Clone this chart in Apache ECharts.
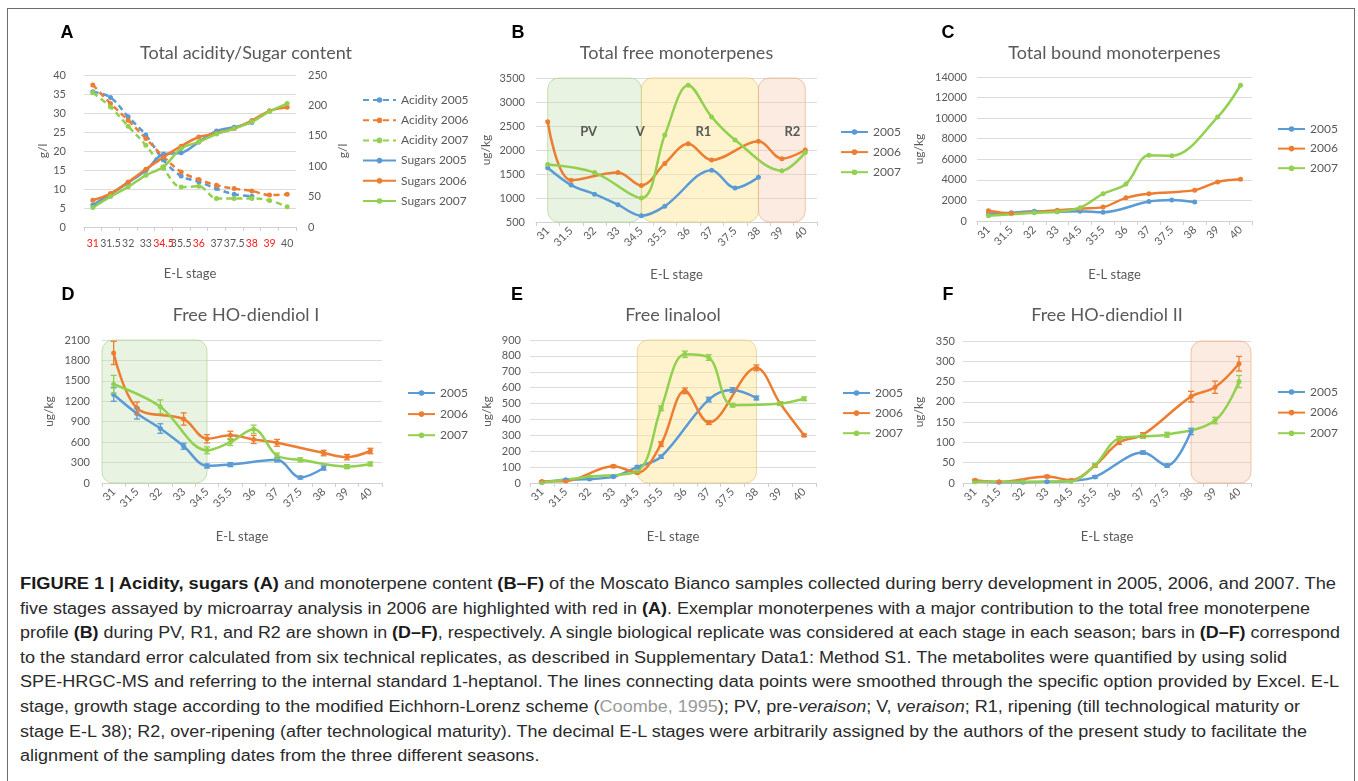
<!DOCTYPE html>
<html>
<head>
<meta charset="utf-8">
<title>Figure 1</title>
<script src="https://cdn.jsdelivr.net/npm/echarts@6/dist/echarts.min.js"></script>
<style>
html, body { margin: 0; padding: 0; background: #fff; width: 1358px; height: 781px; overflow: hidden; }
#frame { position: absolute; left: 7px; top: 8px; width: 1348px; height: 800px; border: 1px solid #6d6d6d; box-sizing: border-box; }
#chart { position: absolute; left: 0; top: 0; width: 1358px; height: 560px; }
#caption { position: absolute; left: 20px; top: 572px; font-family: 'Liberation Sans', Arial, sans-serif; font-size: 16px; line-height: 24.6px; color: #2a2a2a; white-space: nowrap; }
#caption .ln { display: inline-block; transform-origin: 0 50%; }
#caption b { color: #1a1a1a; }
#caption .ref { color: #9a9a9a; }
</style>
</head>
<body>
<div id="frame"></div>
<div id="chart"></div>
<div id="caption">
  <span class="ln"><b>FIGURE 1 | Acidity, sugars (A)</b> and monoterpene content <b>(B–F)</b> of the Moscato Bianco samples collected during berry development in 2005, 2006, and 2007. The</span><br>
  <span class="ln">five stages assayed by microarray analysis in 2006 are highlighted with red in <b>(A)</b>. Exemplar monoterpenes with a major contribution to the total free monoterpene</span><br>
  <span class="ln">profile <b>(B)</b> during PV, R1, and R2 are shown in <b>(D–F)</b>, respectively. A single biological replicate was considered at each stage in each season; bars in <b>(D–F)</b> correspond</span><br>
  <span class="ln">to the standard error calculated from six technical replicates, as described in Supplementary Data1: Method S1. The metabolites were quantified by using solid</span><br>
  <span class="ln">SPE-HRGC-MS and referring to the internal standard 1-heptanol. The lines connecting data points were smoothed through the specific option provided by Excel. E-L</span><br>
  <span class="ln">stage, growth stage according to the modified Eichhorn-Lorenz scheme (<span class="ref">Coombe, 1995</span>); PV, pre-<i>veraison</i>; V, <i>veraison</i>; R1, ripening (till technological maturity or</span><br>
  <span class="ln">stage E-L 38); R2, over-ripening (after technological maturity). The decimal E-L stages were arbitrarily assigned by the authors of the present study to facilitate the</span><br>
  <span class="ln">alignment of the sampling dates from the three different seasons.</span>
</div>
<script>
// E-L stages (x categories), the red ones are the microarray stages of 2006
const stages = ['31', '31.5', '32', '33', '34.5', '35.5', '36', '37', '37.5', '38', '39', '40'];
const markedStages = ['31', '34.5', '36', '38', '39'];

// A - acidity (g/l, left axis) and sugars (g/l, right axis)
const acidity2005 = [35.6, 34.1, 29.0, 24.2, 17.6, 13.4, 11.9, 10.1, 8.6, 8.1, null, null];
const acidity2006 = [37.4, 32.5, 28.1, 23.3, 18.5, 14.5, 12.5, 11.0, 10.1, 9.5, 8.4, 8.6];
const acidity2007 = [35.3, 31.6, 26.5, 21.5, 15.4, 10.5, 10.7, 7.5, 7.5, 7.5, 7.0, 5.3];
const sugars2005 = [36, 54, 73, 93, 120, 122, 140, 158, 164, 172, null, null];
const sugars2006 = [44, 55, 74, 95, 115, 133, 148, 154, 162, 175, 191, 197];
const sugars2007 = [32, 50, 66, 85, 99, 129, 140, 153, 162, 173, 190, 203];

// B - total free monoterpenes (ug/kg)
const free2005 = [1630, 1270, 1080, 860, 630, 830, null, 1580, 1210, 1430, null, null];
const free2006 = [2590, 1370, null, 1530, 1260, 1720, 2130, 1790, null, 2180, 1820, 2000];
const free2007 = [1700, null, 1530, null, 1000, 2310, 3350, 2690, 2210, null, 1570, 1950];

// C - total bound monoterpenes (ug/kg)
const bound2005 = [700, 800, 950, 900, 950, 850, null, 1900, 2050, 1850, null, null];
const bound2006 = [1000, 750, null, 1050, 1200, 1350, 2250, 2650, null, 3000, 3800, 4050];
const bound2007 = [500, null, 800, 900, 1300, 2650, 3600, 6400, 6350, null, 10100, 13200];

// D - free HO-diendiol I (ug/kg) and standard errors
const hoI2005 = [1300, 1020, 800, 540, 250, 270, null, 340, 80, 220, null, null];
const hoI2006 = [1910, 1100, null, 940, 650, 700, 640, 590, null, 440, 380, 470];
const hoI2007 = [1450, null, 1120, null, 480, 600, 790, 400, 340, null, 240, 280];
const hoI2005Err = [100, 80, 70, 45, 30, 30, null, 30, 20, 30, null, null];
const hoI2006Err = [170, 90, null, 90, 60, 60, 60, 50, null, 40, 40, 40];
const hoI2007Err = [130, null, 100, null, 50, 50, 60, 40, 30, null, 30, 30];

// E - free linalool (ug/kg) and standard errors
const lin2005 = [5, 20, 25, 40, 100, 165, null, 525, 585, 535, null, null];
const lin2006 = [10, 12, null, 105, 65, 245, 580, 380, null, 725, 500, 300];
const lin2007 = [3, null, 40, null, 75, 470, 810, 790, 490, null, 500, 530];
const lin2005Err = [3, 4, 4, 5, 8, 10, null, 15, 15, 12, null, null];
const lin2006Err = [3, 3, null, 8, 6, 15, 18, 12, null, 18, 12, 8];
const lin2007Err = [2, null, 4, null, 6, 15, 20, 18, 12, null, 12, 12];

// F - free HO-diendiol II (ug/kg) and standard errors
const hoII2005 = [4, 2, 2, 3, 5, 15, null, 75, 43, 127, null, null];
const hoII2006 = [7, 3, null, 16, 7, 43, 100, 119, null, 213, 236, 294];
const hoII2007 = [3, null, 3, null, 5, 44, 110, 115, 119, null, 154, 250];
const hoII2005Err = [1, 1, 1, 1, 1, 3, null, 4, 4, 8, null, null];
const hoII2006Err = [2, 1, null, 3, 2, 4, 5, 5, null, 13, 15, 18];
const hoII2007Err = [1, null, 1, null, 1, 4, 5, 5, 6, null, 8, 15];

// highlighted phases, in category index units (PV, R1, R2)
const phasesB = [{ from: 0, to: 4, kind: 'pv' }, { from: 4, to: 9, kind: 'r1' }, { from: 9, to: 11, kind: 'r2' }];
const phaseLabelsB = [{ text: 'PV', at: 1.75 }, { text: 'V', at: 3.95 }, { text: 'R1', at: 6.65 }, { text: 'R2', at: 10.45 }];
const phaseLabelValueB = 2380;
const phasesD = [{ from: -0.5, to: 4, kind: 'pv' }];
const phasesE = [{ from: 4, to: 9, kind: 'r1' }];
const phasesF = [{ from: 9, to: 11.5, kind: 'r2' }];

const FONT = 'Lato, "Open Sans", sans-serif';
const GREY = '#595959';
const C2005 = '#5B9BD5', C2006 = '#ED7D31', C2007 = '#92D050';
const phaseStyle = {
  pv: { fill: 'rgba(197,224,178,0.38)', stroke: 'rgba(169,209,142,0.65)' },
  r1: { fill: 'rgba(255,229,153,0.48)', stroke: 'rgba(222,196,120,0.65)' },
  r2: { fill: 'rgba(248,203,173,0.38)', stroke: 'rgba(236,170,130,0.65)' }
};

const chart = echarts.init(document.getElementById('chart'));

const grids = [
  { left: 84, top: 75, width: 212, height: 152 },
  { left: 536, top: 78, width: 281, height: 144 },
  { left: 977, top: 77, width: 275, height: 144 },
  { left: 102, top: 340, width: 280, height: 143 },
  { left: 530, top: 340, width: 286, height: 143 },
  { left: 963, top: 341, width: 288, height: 142 }
];

function xAxis (g, rotate, nameGap) {
  return {
    type: 'category', gridIndex: g, data: stages, boundaryGap: true,
    name: 'E-L stage', nameLocation: 'middle', nameGap: nameGap,
    nameTextStyle: { color: GREY, fontSize: 13, fontFamily: FONT },
    axisLine: { lineStyle: { color: '#d0d0d0' } },
    axisTick: { show: true, length: 4, lineStyle: { color: '#d0d0d0' } },
    axisLabel: { interval: 0, rotate: rotate, color: GREY, fontSize: 11, fontFamily: FONT, margin: rotate ? 7 : 11 },
    splitLine: { show: false }
  };
}

function yAxis (g, max, interval, name, nameGap, margin, min) {
  return {
    type: 'value', gridIndex: g, min: min || 0, max: max, interval: interval,
    name: name, nameLocation: 'middle', nameGap: nameGap, nameRotate: 90,
    nameTextStyle: { color: GREY, fontSize: 12, fontFamily: FONT },
    axisLine: { show: false }, axisTick: { show: false },
    axisLabel: { color: GREY, fontSize: 11, fontFamily: FONT, margin: margin, formatter: v => String(v) },
    splitLine: { lineStyle: { color: '#dcdcdc' } }
  };
}

function line (name, data, color, x, y, dashed) {
  return {
    type: 'line', name: name, xAxisIndex: x, yAxisIndex: y, data: data,
    smooth: 0.35, connectNulls: true, symbol: 'circle', symbolSize: 5,
    color: color, itemStyle: { color: color },
    lineStyle: { width: 2.5, color: color, type: dashed ? [6, 4] : 'solid' },
    z: 3, animation: false
  };
}

// error bars drawn through the axes of the panel
function errBars (vals, errs, color, x, y) {
  const data = [];
  vals.forEach((v, i) => {
    if (v != null && errs[i] != null) data.push([i, v - errs[i], v + errs[i]]);
  });
  return {
    type: 'custom', name: 'err', xAxisIndex: x, yAxisIndex: y, data: data, z: 4,
    encode: { x: 0, y: [1, 2] }, animation: false, silent: true,
    renderItem (params, api) {
      const lo = api.coord([api.value(0), api.value(1)]);
      const hi = api.coord([api.value(0), api.value(2)]);
      const w = 3;
      const st = { stroke: color, lineWidth: 1.3 };
      return {
        type: 'group',
        children: [
          { type: 'line', shape: { x1: lo[0], y1: lo[1], x2: hi[0], y2: hi[1] }, style: st },
          { type: 'line', shape: { x1: lo[0] - w, y1: lo[1], x2: lo[0] + w, y2: lo[1] }, style: st },
          { type: 'line', shape: { x1: hi[0] - w, y1: hi[1], x2: hi[0] + w, y2: hi[1] }, style: st }
        ]
      };
    }
  };
}

function legend (left, top, names, itemWidth, gap) {
  return {
    orient: 'vertical', left: left, top: top, data: names,
    itemWidth: itemWidth, itemHeight: 7, itemGap: gap,
    textStyle: { color: GREY, fontSize: 12, fontFamily: FONT },
    selectedMode: false
  };
}

const years = ['2005', '2006', '2007'];

const xAxisA = xAxis(0, 0, 40);
xAxisA.axisLabel.fontSize = 10.5;
xAxisA.axisLabel.color = (v) => markedStages.indexOf(v) >= 0 ? '#ff1a1a' : GREY;

const yRightA = yAxis(0, 250, 50, 'g/l', 41, 12);
yRightA.position = 'right';
yRightA.splitLine = { show: false };

const option = {
  animation: false,
  grid: grids,
  xAxis: [
    xAxisA,
    xAxis(1, 45, 46),
    xAxis(2, 45, 47),
    xAxis(3, 45, 47),
    xAxis(4, 45, 47),
    xAxis(5, 45, 47)
  ],
  yAxis: [
    yAxis(0, 40, 5, 'g/l', 31, 18),
    yRightA,
    yAxis(1, 3500, 500, 'ug/kg', 44, 11, 500),
    yAxis(2, 14000, 2000, 'ug/kg', 52, 10),
    yAxis(3, 2100, 300, 'ug/kg', 47, 12),
    yAxis(4, 900, 100, 'ug/kg', 37, 9),
    yAxis(5, 350, 50, 'ug/kg', 38, 8)
  ],
  legend: [
    legend(357, 89, ['Acidity 2005', 'Acidity 2006', 'Acidity 2007', 'Sugars 2005', 'Sugars 2006', 'Sugars 2007'], 33, 8.2),
    legend(835, 121, years, 27, 8.1),
    legend(1272, 118, years, 27, 7.6),
    legend(402, 382, years, 27, 9.1),
    legend(837, 382, years, 27, 8.1),
    legend(1272, 381, years, 27, 8.6)
  ],
  series: [
    line('Acidity 2005', acidity2005, C2005, 0, 0, true),
    line('Acidity 2006', acidity2006, C2006, 0, 0, true),
    line('Acidity 2007', acidity2007, C2007, 0, 0, true),
    line('Sugars 2005', sugars2005, C2005, 0, 1),
    line('Sugars 2006', sugars2006, C2006, 0, 1),
    line('Sugars 2007', sugars2007, C2007, 0, 1),

    line('2005', free2005, C2005, 1, 2),
    line('2006', free2006, C2006, 1, 2),
    line('2007', free2007, C2007, 1, 2),

    line('2005', bound2005, C2005, 2, 3),
    line('2006', bound2006, C2006, 2, 3),
    line('2007', bound2007, C2007, 2, 3),

    line('2005', hoI2005, C2005, 3, 4),
    line('2006', hoI2006, C2006, 3, 4),
    line('2007', hoI2007, C2007, 3, 4),
    errBars(hoI2005, hoI2005Err, C2005, 3, 4),
    errBars(hoI2006, hoI2006Err, C2006, 3, 4),
    errBars(hoI2007, hoI2007Err, C2007, 3, 4),

    line('2005', lin2005, C2005, 4, 5),
    line('2006', lin2006, C2006, 4, 5),
    line('2007', lin2007, C2007, 4, 5),
    errBars(lin2005, lin2005Err, C2005, 4, 5),
    errBars(lin2006, lin2006Err, C2006, 4, 5),
    errBars(lin2007, lin2007Err, C2007, 4, 5),

    line('2005', hoII2005, C2005, 5, 6),
    line('2006', hoII2006, C2006, 5, 6),
    line('2007', hoII2007, C2007, 5, 6),
    errBars(hoII2005, hoII2005Err, C2005, 5, 6),
    errBars(hoII2006, hoII2006Err, C2006, 5, 6),
    errBars(hoII2007, hoII2007Err, C2007, 5, 6)
  ]
};
chart.setOption(option);

// ---- shaded phases, panel letters and titles ----
function catX (xi, pos) {
  const a = chart.convertToPixel({ xAxisIndex: xi }, 0);
  const b = chart.convertToPixel({ xAxisIndex: xi }, 1);
  return a + (b - a) * pos;
}
function phaseRects (phases, xi, yi, top, bottom) {
  const yTop = chart.convertToPixel({ yAxisIndex: yi }, top);
  const yBot = chart.convertToPixel({ yAxisIndex: yi }, bottom);
  return phases.map(p => {
    const x1 = catX(xi, p.from), x2 = catX(xi, p.to);
    return {
      type: 'rect', z: 1, silent: true,
      shape: { x: x1, y: yTop, width: x2 - x1, height: yBot - yTop, r: 11 },
      style: { fill: phaseStyle[p.kind].fill, stroke: phaseStyle[p.kind].stroke, lineWidth: 1 }
    };
  });
}
function label (text, x, y, font, fill) {
  return {
    type: 'text', x: x, y: y, z: 10, silent: true,
    style: { text: text, font: font, fill: fill, align: 'center', verticalAlign: 'middle', textAlign: 'center', textVerticalAlign: 'middle' }
  };
}

const panels = [
  { letter: 'A', lx: 67, ly: 33, title: 'Total acidity/Sugar content', g: 0 },
  { letter: 'B', lx: 518, ly: 33, title: 'Total free monoterpenes', g: 1 },
  { letter: 'C', lx: 948, ly: 33, title: 'Total bound monoterpenes', g: 2 },
  { letter: 'D', lx: 68, ly: 295, title: 'Free HO-diendiol I', g: 3 },
  { letter: 'E', lx: 517, ly: 295, title: 'Free linalool', g: 4 },
  { letter: 'F', lx: 948, ly: 295, title: 'Free HO-diendiol II', g: 5 }
];

const graphics = [];
graphics.push(...phaseRects(phasesB, 1, 2, 3500, 500));
graphics.push(...phaseRects(phasesD, 3, 4, 2100, 0));
graphics.push(...phaseRects(phasesE, 4, 5, 900, 0));
graphics.push(...phaseRects(phasesF, 5, 6, 350, 0));
const yLab = chart.convertToPixel({ yAxisIndex: 2 }, phaseLabelValueB);
phaseLabelsB.forEach(l => {
  graphics.push(label(l.text, catX(1, l.at), yLab, 'bold 13px Lato, sans-serif', GREY));
});
panels.forEach(p => {
  const gr = grids[p.g];
  graphics.push(label(p.letter, p.lx, p.ly, 'bold 18px "Liberation Sans", Arial, sans-serif', '#000'));
  graphics.push(label(p.title, p.g === 0 ? 246 : gr.left + gr.width / 2 + (p.g === 3 ? 4 : 0), p.ly + 20, '18px Lato, sans-serif', GREY));
});
chart.setOption({ graphic: graphics });

// fit caption lines to the widths of the printed caption
const lineEnds = [1336, 1310, 1340, 1287, 1339, 1300, 1307, null];
const lines = document.querySelectorAll('#caption .ln');
let sum = 0, n = 0;
lines.forEach((el, i) => {
  if (lineEnds[i]) {
    const s = (lineEnds[i] - 20) / el.getBoundingClientRect().width;
    el.style.transform = 'scaleX(' + s + ')';
    sum += s; n++;
  }
});
lines[7].style.transform = 'scaleX(' + (sum / n) + ')';
</script>
</body>
</html>
